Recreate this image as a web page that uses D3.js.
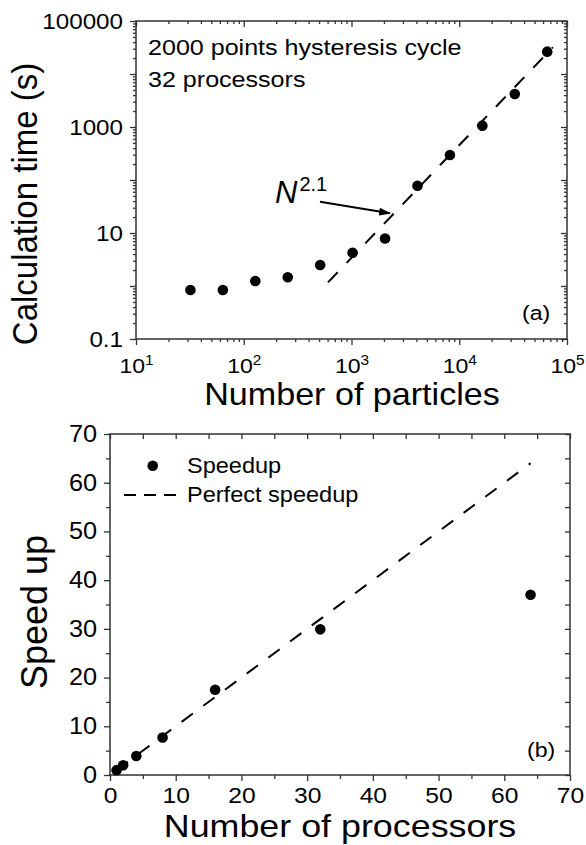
<!DOCTYPE html>
<html>
<head>
    <title>Calculation time and speedup</title>
    <meta charset="utf-8" />
    <style>
        body { margin: 0; background-color: #ffffff; }
        svg { display: block; }
        text { font-family: "Liberation Sans", Arial, sans-serif; fill: #000; }
        .tick line { stroke: #333; stroke-width: 1.3px; }
        .frame { fill: none; stroke: #333; stroke-width: 1.5px; }
        .dash { fill: none; stroke: #000; stroke-width: 2px; stroke-dasharray: 14, 13; }
    </style>
    <script src="https://cdnjs.cloudflare.com/ajax/libs/d3/7.8.5/d3.min.js"></script>
</head>
<body>
    <div id="graph"></div>
<script>
    // panel (a): calculation time vs number of particles
    var particles = [32, 64, 128, 256, 512, 1024, 2048, 4096, 8192, 16384, 32768, 65536];
    var calcTime = [0.84, 0.84, 1.24, 1.46, 2.49, 4.25, 7.9, 78, 296, 1060, 4200, 26400];
    var fitN = [605, 74000];
    var fitTime = [1.17, 32000];
    var xDecadesA = [10, 100, 1000, 10000, 100000];
    var yDecadesA = [0.1, 1, 10, 100, 1000, 10000, 100000];
    var yLabelsA = [0.1, 10, 1000, 100000];
    var arrowFrom = [510, 39], arrowTo = [2275, 23.5], powerLabelAt = [195, 37];

    // panel (b): speedup vs number of processors
    var processors = [1, 2, 4, 8, 16, 32, 64];
    var speedup = [1.0, 2.0, 3.9, 7.7, 17.5, 29.9, 37.0];
    var perfect = [1, 64];
    var ticksB = [0, 10, 20, 30, 40, 50, 60, 70];

    var w = 586, h = 845;

    var svg = d3.select('#graph')
      .append('svg')
      .attr('width', w)
      .attr('height', h);

    svg.append('defs').append('marker')
      .attr('id', 'arrow')
      .attr('markerUnits', 'userSpaceOnUse')
      .attr('markerWidth', 12).attr('markerHeight', 8)
      .attr('refX', 11).attr('refY', 4)
      .attr('orient', 'auto')
      .append('path')
        .attr('d', 'M0,0 L12,4 L0,8 z')
        .attr('fill', '#000');

    // text with a small horizontal stretch, the scan is a bit wider than tall
    function stretched(x, y, str, size, sx, rot) {
        return svg.append('text')
          .attr('transform', 'translate(' + x + ',' + y + ') scale(' + sx + ',1)' + (rot ? ' rotate(' + rot + ')' : ''))
          .style('font-size', size + 'px')
          .text(str);
    }

    function axis(x, y, ax) {
        var g = svg.append('g')
          .attr('transform', 'translate(' + x + ',' + y + ')')
          .call(ax);
        g.select('.domain').remove();
        return g;
    }

    // ---------- (a) ----------
    var a = { left: 136, right: 567, top: 21, bottom: 339 };
    var xA = d3.scaleLog().domain([10, 1e5]).range([a.left, a.right]);
    var yA = d3.scaleLog().domain([0.1, 1e5]).range([a.bottom, a.top]);
    var isDecade = d => Math.abs(Math.log10(d) - Math.round(Math.log10(d))) < 1e-9;
    var xMinorA = xA.ticks().filter(d => !isDecade(d));
    var yMinorA = yA.ticks().filter(d => !isDecade(d));

    var bottomA = axis(0, a.bottom, d3.axisBottom(xA).tickValues(xDecadesA).tickSize(6));
    bottomA.selectAll('.tick text')
      .attr('y', 19)
      .attr('transform', 'scale(1.1,1)')
      .style('font-size', '21px')
      .each(function (d) {
          var t = d3.select(this);
          t.text('10');
          t.append('tspan')
            .attr('dy', -8)
            .style('font-size', '14px')
            .text(Math.round(Math.log10(d)));
      });
    axis(0, a.bottom, d3.axisBottom(xA).tickValues(xMinorA).tickSize(3).tickFormat(''));
    axis(0, a.top, d3.axisTop(xA).tickValues(xDecadesA).tickSize(-6).tickFormat(''));
    axis(0, a.top, d3.axisTop(xA).tickValues(xMinorA).tickSize(-3).tickFormat(''));

    var leftA = axis(a.left, 0, d3.axisLeft(yA).tickValues(yDecadesA).tickSize(6)
      .tickFormat(d => yLabelsA.indexOf(d) >= 0 ? String(d) : ''));
    leftA.selectAll('.tick text')
      .attr('x', -11.8)
      .attr('transform', 'scale(1.1,1)')
      .style('font-size', '22px');
    axis(a.left, 0, d3.axisLeft(yA).tickValues(yMinorA).tickSize(3).tickFormat(''));
    axis(a.right, 0, d3.axisRight(yA).tickValues(yDecadesA).tickSize(-6).tickFormat(''));
    axis(a.right, 0, d3.axisRight(yA).tickValues(yMinorA).tickSize(-3).tickFormat(''));

    svg.append('rect').attr('class', 'frame')
      .attr('x', a.left).attr('y', a.top)
      .attr('width', a.right - a.left).attr('height', a.bottom - a.top);

    svg.append('path')
      .datum(fitN.map((n, i) => [n, fitTime[i]]))
      .attr('class', 'dash')
      .attr('d', d3.line().x(d => xA(d[0])).y(d => yA(d[1])));

    svg.append('g').selectAll('circle')
      .data(particles.map((n, i) => [n, calcTime[i]]))
      .enter().append('circle')
        .attr('cx', d => xA(d[0]))
        .attr('cy', d => yA(d[1]))
        .attr('r', 5.3)
        .attr('fill', '#000');

    svg.append('line')
      .attr('x1', xA(arrowFrom[0])).attr('y1', yA(arrowFrom[1]))
      .attr('x2', xA(arrowTo[0])).attr('y2', yA(arrowTo[1]))
      .attr('stroke', '#000').attr('stroke-width', 2)
      .attr('marker-end', 'url(#arrow)');

    var pw = svg.append('text')
      .attr('x', xA(powerLabelAt[0])).attr('y', yA(powerLabelAt[1]))
      .style('font-size', '31px');
    pw.append('tspan').style('font-style', 'italic').text('N');
    pw.append('tspan').attr('dx', 2).attr('dy', -12).style('font-size', '20px').text('2.1');

    stretched(148, 55, '2000 points hysteresis cycle', 22, 1.14);
    stretched(148, 87, '32 processors', 22, 1.14);
    stretched(522, 320, '(a)', 21, 1.1);

    stretched(352, 405, 'Number of particles', 31, 1.1).attr('text-anchor', 'middle');
    stretched(37, 204, 'Calculation time (s)', 33, 1.05, -90).attr('text-anchor', 'middle');

    // ---------- (b) ----------
    var b = { left: 110, right: 570, top: 434, bottom: 775 };
    var xB = d3.scaleLinear().domain([0, 70]).range([b.left, b.right]);
    var yB = d3.scaleLinear().domain([0, 70]).range([b.bottom, b.top]);
    var allB = xB.ticks(14);
    var minorB = allB.filter(d => d % 10 !== 0);

    var bottomB = axis(0, b.bottom, d3.axisBottom(xB).tickValues(ticksB).tickSize(6));
    bottomB.selectAll('.tick text')
      .attr('y', 12.5)
      .attr('transform', 'scale(1.12,1)')
      .style('font-size', '22px');
    axis(0, b.bottom, d3.axisBottom(xB).tickValues(minorB).tickSize(4).tickFormat(''));
    axis(0, b.top, d3.axisTop(xB).tickValues(allB).tickSize(-5).tickFormat(''));

    var leftB = axis(b.left, 0, d3.axisLeft(yB).tickValues(ticksB).tickSize(6));
    leftB.selectAll('.tick text')
      .attr('x', -11.8)
      .attr('transform', 'scale(1.1,1)')
      .style('font-size', '23px');
    axis(b.left, 0, d3.axisLeft(yB).tickValues(minorB).tickSize(4).tickFormat(''));
    axis(b.right, 0, d3.axisRight(yB).tickValues(allB).tickSize(-5).tickFormat(''));

    svg.append('rect').attr('class', 'frame')
      .attr('x', b.left).attr('y', b.top)
      .attr('width', b.right - b.left).attr('height', b.bottom - b.top);

    svg.append('path')
      .datum(perfect.map(p => [p, p]))
      .attr('class', 'dash')
      .attr('d', d3.line().x(d => xB(d[0])).y(d => yB(d[1])));

    svg.append('g').selectAll('circle')
      .data(processors.map((p, i) => [p, speedup[i]]))
      .enter().append('circle')
        .attr('cx', d => xB(d[0]))
        .attr('cy', d => yB(d[1]))
        .attr('r', 5.3)
        .attr('fill', '#000');

    // legend
    svg.append('circle').attr('cx', 152.7).attr('cy', 465.7).attr('r', 5.3).attr('fill', '#000');
    stretched(187, 473, 'Speedup', 22, 1.07);
    svg.append('line')
      .attr('x1', 124).attr('x2', 180).attr('y1', 495).attr('y2', 495)
      .attr('stroke', '#000').attr('stroke-width', 2).attr('stroke-dasharray', '12,8');
    stretched(187, 502, 'Perfect speedup', 22, 1.07);
    stretched(527, 757, '(b)', 21, 1.1);

    stretched(340, 837, 'Number of processors', 32, 1.12).attr('text-anchor', 'middle');
    stretched(47, 612, 'Speed up', 36, 1.03, -90).attr('text-anchor', 'middle');
</script>
</body>
</html>
